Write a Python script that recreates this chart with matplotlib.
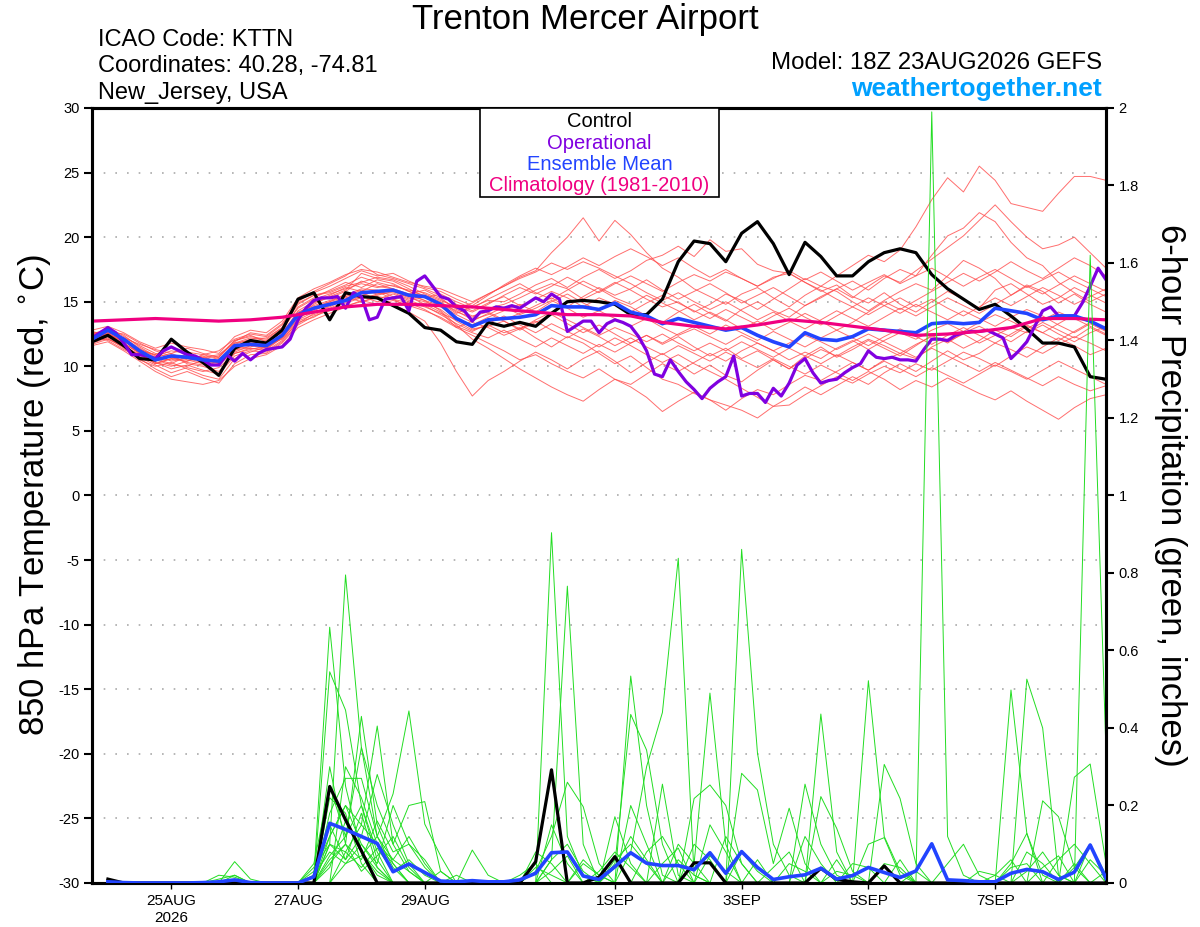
import numpy as np
import matplotlib
matplotlib.use("Agg")
import matplotlib.pyplot as plt
from matplotlib.patches import Rectangle

plt.rcParams["font.family"] = ["Liberation Sans", "DejaVu Sans"]
plt.rcParams["axes.unicode_minus"] = False

# ---------------------------------------------------------------------------
# 数据（小时，从 18Z 23AUG2026 起算）
# ---------------------------------------------------------------------------
hours = np.arange(0, 385, 6)        # 温度 65 点
hours_op = np.arange(0, 385, 3)     # 业务模式 3 小时
hours_pcp = np.arange(6, 385, 6)    # 6 小时降水 64 点
hours_clim = np.arange(0, 385, 12)  # 气候值

tick_hours = [30, 78, 126, 198, 246, 294, 342]
tick_labels = ["25AUG\n2026", "27AUG", "29AUG", "1SEP", "3SEP", "5SEP", "7SEP"]

# 850 hPa 温度
t_control = [11.9, 12.4, 11.6, 10.6, 10.5, 12.1, 11.1, 10.3, 9.3, 11.4, 12.0, 11.8, 12.8,
             15.2, 15.7, 13.6, 15.7, 15.4, 15.3, 14.7, 14.1, 13.0, 12.8, 11.9, 11.7, 13.4,
             13.1, 13.4, 13.1, 14.1, 15.0, 15.1, 15.0, 14.8, 14.0, 14.0, 15.2, 18.1, 19.7,
             19.5, 18.1, 20.3, 21.2, 19.5, 17.1, 19.6, 18.5, 17.0, 17.0, 18.1, 18.8, 19.1,
             18.8, 17.1, 16.0, 15.2, 14.4, 14.8, 13.9, 12.9, 11.8, 11.8, 11.5, 9.2, 9.0]
t_mean = [12.1, 12.8, 12.1, 11.2, 10.5, 10.8, 10.7, 10.5, 10.4, 11.6, 11.7, 11.6, 12.4,
          14.0, 14.5, 14.8, 15.1, 15.7, 15.8, 15.9, 15.5, 15.4, 14.8, 13.7, 13.1, 13.6,
          13.7, 13.8, 14.0, 14.7, 14.6, 14.6, 14.4, 14.9, 14.2, 13.9, 13.3, 13.7, 13.4,
          13.1, 12.8, 13.0, 12.4, 11.9, 11.5, 12.6, 12.1, 12.0, 12.3, 12.9, 12.8, 12.7,
          12.6, 13.3, 13.4, 13.3, 13.4, 14.5, 14.3, 14.1, 13.6, 13.9, 13.9, 13.5, 12.9]
t_oper = [12.2, 12.6, 13.0, 12.6, 11.8, 10.9, 10.9, 10.8, 10.6, 11.2, 11.5, 11.2, 10.9,
          10.8, 10.5, 10.1, 10.1, 10.9, 10.4, 11.0, 10.5, 11.0, 11.3, 11.4, 11.5, 12.1,
          13.6, 14.5, 15.1, 15.3, 15.3, 15.4, 14.5, 15.7, 15.4, 13.6, 13.8, 15.2, 15.3,
          15.4, 14.3, 16.6, 17.0, 16.2, 15.4,
          15.2, 14.6, 14.3, 13.5, 14.2, 14.3, 14.6, 14.5, 14.7, 14.5, 14.9, 15.3, 15.0,
          15.6, 15.2, 12.7, 13.1, 13.5, 13.5, 12.6, 13.3, 13.6, 13.4, 13.1, 12.3, 11.2,
          9.4, 9.2, 10.5, 9.6, 8.8, 8.2, 7.5, 8.3, 8.8, 9.2, 10.8, 7.7, 7.9, 7.9, 7.2,
          8.3, 7.7, 8.7,
          10.1, 10.6, 9.5, 8.7, 8.9, 9.0, 9.5, 9.9, 10.2, 11.2, 10.7, 10.6, 10.7, 10.5,
          10.5, 10.4, 11.3, 12.1, 12.1, 12.0, 12.4, 12.6, 12.7, 12.7, 12.8, 12.5, 12.2,
          10.6, 11.2, 11.9, 13.1, 14.3, 14.6, 13.9, 13.9, 13.9, 14.9, 16.2, 17.6, 16.7]
t_clim = [13.5, 13.6, 13.7, 13.6, 13.5, 13.6, 13.8, 14.2, 14.6, 14.8, 14.8, 14.7, 14.6,
          14.4, 14.2, 14.0, 14.0, 13.9, 13.4, 13.1, 12.9, 13.2, 13.6, 13.4, 13.1, 12.8,
          12.4, 12.5, 12.7, 13.0, 13.7, 13.7, 13.6]

# 集合成员温度
t_m01 = [12.3, 12.6, 11.8, 11.0, 10.2, 10.6, 10.9, 10.7, 10.9, 11.8, 12.2, 12.0, 12.9,
         14.5, 15.2, 15.6, 16.0, 16.4, 16.1, 16.3, 15.8, 15.5, 15.0, 14.2, 13.8, 14.5,
         14.8, 15.3, 15.9, 16.4, 16.0, 15.2, 15.8, 16.5, 15.9, 15.2, 14.6, 15.0, 14.2,
         14.8, 15.6, 15.1, 14.4, 15.2, 16.0, 16.8, 16.2, 17.0, 17.8, 18.6, 18.1, 19.0,
         20.8, 22.9, 24.6, 23.5, 25.5, 24.4, 22.6, 22.3, 22.0, 23.4, 24.7, 24.7, 24.4]
t_m02 = [12.0, 12.9, 12.4, 11.5, 10.8, 11.2, 11.0, 10.6, 10.8, 12.0, 12.3, 12.1, 13.0,
         14.8, 15.5, 15.8, 16.3, 16.9, 16.5, 16.2, 15.9, 15.7, 15.2, 14.5, 14.9, 15.6,
         16.2, 16.9, 17.4, 18.8, 20.0, 21.5, 19.7, 21.3, 20.2, 18.8, 17.6, 16.9, 16.0,
         15.4, 14.8, 15.6, 16.1, 15.3, 14.6, 15.5, 16.2, 15.8, 15.0, 14.3, 15.1, 15.8,
         16.4, 15.9, 17.0, 18.2, 17.6, 16.8, 15.5, 16.3, 15.8, 14.9, 15.6, 14.8, 14.2]
t_m03 = [12.4, 12.7, 11.9, 11.3, 10.9, 10.4, 10.6, 10.8, 10.2, 11.4, 11.5, 11.9, 12.6,
         13.9, 14.8, 15.4, 15.9, 17.2, 16.8, 16.6, 16.0, 15.4, 14.9, 14.1, 14.6, 15.1,
         15.0, 15.6, 16.3, 16.8, 16.1, 16.9, 17.5, 16.8, 17.4, 18.2, 18.6, 19.3, 18.5,
         19.8, 18.9, 19.1, 17.9, 17.4, 17.2, 16.5, 15.8, 16.3, 15.4, 14.9, 15.7, 14.8,
         14.2, 15.0, 15.8, 15.2, 14.5, 15.9, 16.4, 15.6, 14.8, 15.3, 16.1, 15.5, 14.9]
t_m04 = [11.8, 12.2, 11.4, 10.6, 9.8, 9.2, 9.6, 9.1, 8.7, 10.2, 10.9, 11.0, 11.8,
         13.2, 13.9, 14.3, 14.7, 15.0, 15.3, 14.8, 14.2, 13.5, 11.8, 9.6, 7.7, 8.9,
         9.6, 10.4, 11.1, 10.5, 9.8, 10.6, 11.2, 10.4, 9.5, 10.3, 11.0, 10.2, 9.4,
         10.1, 9.3, 8.8, 9.7, 10.5, 9.8, 10.8, 11.5, 10.7, 11.3, 12.0, 11.4, 10.8,
         11.6, 12.4, 11.8, 12.6, 13.1, 12.5, 11.9, 12.7, 13.4, 12.8, 12.2, 13.0, 12.4]
t_m05 = [12.1, 12.5, 12.0, 11.0, 10.4, 10.9, 10.2, 10.0, 9.6, 11.0, 11.4, 11.3, 12.2,
         13.6, 14.2, 14.6, 15.2, 15.5, 15.8, 15.2, 14.6, 14.9, 14.4, 13.5, 12.8, 13.2,
         12.6, 13.0, 12.2, 11.5, 12.3, 11.8, 11.0, 10.2, 10.8, 9.9, 9.0, 8.6, 7.9,
         7.4, 7.0, 6.6, 6.0, 6.9, 7.6, 8.4, 7.8, 8.5, 9.2, 8.6, 9.5, 10.2,
         9.6, 10.4, 11.2, 10.5, 11.0, 11.8, 11.3, 10.7, 11.5, 12.2, 11.6, 10.9, 11.4]
t_m06 = [12.6, 12.3, 11.6, 10.5, 10.0, 10.3, 9.8, 9.3, 9.0, 10.6, 11.1, 11.5, 12.4,
         14.0, 14.6, 15.0, 15.6, 15.2, 15.6, 15.9, 15.4, 14.8, 14.2, 13.0, 12.4, 11.8,
         11.2, 10.5, 10.9, 10.2, 9.6, 9.1, 9.8, 9.0, 8.4, 7.6, 6.5, 7.3, 8.0,
         7.4, 6.6, 7.5, 8.2, 7.8, 8.6, 9.3, 8.9, 9.6, 10.3, 9.7, 10.5, 11.0,
         10.6, 11.5, 12.1, 11.4, 12.0, 12.8, 12.3, 13.1, 12.6, 13.3, 14.0, 13.4, 12.8]
t_m07 = [11.9, 12.4, 12.2, 11.4, 10.7, 11.0, 10.5, 10.2, 10.5, 11.6, 11.8, 11.4, 12.3,
         14.2, 14.7, 15.1, 15.5, 16.0, 15.9, 15.4, 15.0, 14.6, 14.1, 13.6, 13.2, 13.8,
         14.3, 14.8, 14.2, 15.0, 15.6, 14.9, 14.3, 15.1, 14.6, 13.9, 13.4, 14.2, 14.8,
         14.1, 13.5, 14.4, 15.0, 14.3, 13.8, 14.7, 15.4, 16.0, 15.3, 16.2, 17.0, 16.5,
         17.4, 18.3, 19.2, 20.1, 21.3, 22.5, 21.2, 20.0, 19.1, 19.4, 20.0, 18.8, 17.6]
t_m08 = [12.2, 12.1, 11.5, 10.8, 10.6, 10.2, 10.8, 10.4, 10.1, 11.2, 11.9, 11.7, 12.5,
         14.3, 15.0, 15.3, 15.8, 16.6, 16.2, 16.0, 15.6, 15.9, 15.3, 14.4, 13.9, 14.2,
         13.6, 14.1, 14.7, 15.3, 14.6, 15.4, 16.1, 15.5, 16.0, 16.7, 15.9, 15.2, 15.8,
         16.4, 15.7, 14.9, 15.5, 16.1, 15.4, 14.7, 15.3, 16.0, 16.6, 15.9, 16.8, 17.5,
         17.0, 18.6, 20.1, 20.7, 21.9, 21.2, 19.6, 18.4, 17.8, 16.5, 15.7, 15.0, 15.6]
t_m09 = [12.0, 12.6, 11.7, 11.1, 10.3, 10.0, 10.4, 10.9, 10.6, 11.3, 11.4, 11.2, 12.0,
         13.5, 14.0, 14.4, 14.9, 15.3, 15.5, 15.8, 15.3, 15.0, 14.6, 13.8, 12.9, 13.1,
         13.5, 12.8, 13.4, 14.0, 13.3, 12.6, 13.2, 12.5, 11.8, 12.4, 11.7, 12.3, 11.5,
         10.8, 11.4, 10.6, 11.2, 10.5, 9.8, 10.6, 11.3, 10.8, 11.5, 12.1, 11.6, 11.0,
         11.7, 12.3, 11.9, 12.5, 11.8, 12.4, 13.0, 12.6, 13.2, 12.5, 11.9, 12.6, 13.1]
t_m10 = [12.5, 12.9, 12.3, 11.6, 11.0, 10.7, 10.3, 10.1, 10.4, 11.8, 12.0, 11.8, 12.7,
         14.1, 14.9, 15.5, 16.1, 15.8, 16.4, 16.0, 15.5, 15.1, 14.7, 14.0, 13.4, 13.0,
         12.4, 12.9, 13.5, 12.8, 12.2, 12.9, 12.3, 11.6, 12.2, 11.5, 10.9, 11.6, 11.0,
         10.4, 11.1, 10.5, 9.9, 10.6, 10.0, 9.4, 10.1, 9.5, 8.9, 9.6, 9.0, 8.2,
         8.9, 8.4, 9.1, 8.5, 7.9, 7.4, 8.1, 7.3, 6.6, 5.9, 6.8, 7.5, 7.8]
t_m11 = [12.7, 12.4, 12.0, 11.2, 10.9, 11.5, 11.1, 10.9, 11.2, 12.1, 12.5, 12.3, 13.2,
         15.0, 15.8, 16.4, 17.0, 17.9, 17.1, 16.8, 16.4, 16.0, 15.5, 14.8, 14.3, 14.9,
         15.4, 14.7, 15.2, 15.8, 15.3, 14.6, 15.3, 14.8, 14.2, 14.9, 15.5, 14.9, 14.3,
         13.7, 14.4, 13.8, 13.2, 13.9, 14.5, 13.8, 13.2, 13.9, 14.6, 14.0, 14.7, 15.3,
         14.6, 15.2, 14.5, 13.9, 14.6, 15.3, 14.7, 15.4, 16.1, 15.5, 14.8, 15.4, 16.0]
t_m12 = [12.3, 12.0, 11.3, 10.7, 10.1, 9.5, 9.9, 9.6, 9.9, 11.0, 11.3, 11.6, 12.1,
         13.4, 13.8, 14.5, 15.0, 15.4, 15.0, 15.3, 15.6, 15.1, 14.3, 13.2, 12.1, 11.4,
         10.6, 9.8, 9.1, 8.4, 7.8, 7.3, 8.2, 9.0, 8.6, 9.4, 10.2, 9.6, 10.3,
         11.0, 10.4, 11.2, 11.8, 11.2, 10.5, 11.1, 10.6, 11.4, 12.0, 11.3, 12.0, 12.6,
         12.1, 12.8, 13.3, 12.7, 13.4, 14.0, 13.5, 12.9, 13.6, 14.2, 13.7, 13.1, 12.5]
t_m13 = [12.1, 12.7, 12.5, 11.8, 11.2, 10.8, 10.6, 10.3, 10.7, 12.0, 12.4, 11.9, 12.8,
         14.6, 15.3, 15.9, 16.5, 16.1, 16.7, 16.4, 15.8, 15.3, 15.6, 15.0, 14.5, 15.2,
         15.8, 16.4, 15.7, 15.2, 15.9, 16.6, 16.0, 15.3, 14.8, 15.5, 14.9, 14.3, 13.6,
         14.2, 13.6, 12.9, 13.5, 12.8, 13.4, 14.1, 13.5, 12.8, 13.4, 14.2, 15.0, 14.4,
         15.1, 15.8, 16.5, 17.2, 16.6, 17.3, 18.1, 17.4, 16.8, 17.6, 18.4, 17.8, 17.0]
t_m14 = [11.7, 12.1, 11.6, 10.9, 10.5, 10.1, 10.0, 10.5, 10.2, 11.5, 11.8, 11.5, 12.3,
         13.8, 14.3, 14.9, 15.3, 15.7, 15.2, 15.6, 15.1, 14.7, 14.0, 13.3, 12.7, 13.3,
         13.9, 13.2, 12.6, 13.3, 12.7, 12.1, 11.5, 12.2, 11.6, 10.9, 10.3, 10.9, 10.2,
         9.6, 9.0, 8.3, 7.6, 6.9, 7.0, 7.8, 8.5, 9.2, 8.7, 9.4, 10.0, 9.5,
         10.2, 9.7, 10.4, 11.1, 10.6, 10.0, 10.8, 11.5, 11.0, 11.7, 12.3, 11.8, 11.2]
t_m15 = [12.4, 12.8, 12.1, 11.3, 10.6, 10.5, 10.8, 10.5, 10.3, 11.7, 12.1, 12.2, 13.0,
         14.9, 15.5, 15.7, 16.2, 16.5, 16.9, 16.7, 16.2, 15.6, 15.1, 14.6, 14.2, 14.8,
         15.5, 16.1, 15.6, 16.2, 16.9, 16.3, 15.7, 16.4, 17.0, 16.4, 15.8, 16.5, 17.1,
         16.6, 17.3, 16.8, 16.2, 16.9, 17.2, 16.5, 15.9, 15.2, 14.6, 15.3, 14.7, 14.1,
         14.8, 14.2, 13.6, 14.3, 13.7, 13.1, 13.8, 14.4, 13.9, 13.2, 12.6, 13.3, 12.7]
t_m16 = [11.9, 12.3, 11.8, 11.0, 10.3, 9.8, 10.1, 9.7, 9.4, 10.8, 11.2, 11.1, 11.9,
         13.3, 14.1, 14.7, 15.4, 15.0, 15.4, 15.2, 14.9, 14.4, 13.7, 13.0, 13.5, 14.1,
         13.5, 12.9, 13.6, 14.2, 13.6, 13.0, 12.4, 13.0, 12.5, 11.9, 12.5, 11.8, 11.2,
         11.8, 11.2, 11.9, 11.3, 10.7, 11.4, 10.8, 10.2, 10.9, 10.3, 9.7, 10.4, 9.8,
         9.2, 9.9, 9.3, 8.7, 9.4, 10.1, 9.6, 9.0, 9.7, 10.4, 9.8, 9.2, 8.6]
t_m17 = [12.6, 12.6, 12.2, 11.7, 11.3, 11.0, 11.4, 11.0, 10.7, 11.9, 12.6, 12.4, 13.3,
         15.1, 15.7, 16.2, 16.8, 17.4, 17.0, 17.2, 16.6, 16.1, 15.8, 15.2, 14.7, 15.5,
         16.3, 17.0, 17.6, 17.1, 17.7, 18.4, 17.8, 18.5, 19.1, 18.5, 17.8, 18.4, 17.6,
         16.9, 17.5, 16.8, 16.2, 16.8, 17.4, 16.7, 17.3, 16.6, 15.9, 16.5, 17.1, 16.4,
         17.0, 17.6, 16.9, 16.2, 16.9, 17.5, 16.8, 16.1, 16.7, 17.3, 16.6, 16.0, 15.4]
t_m18 = [12.2, 12.5, 11.5, 10.9, 10.2, 10.6, 10.4, 10.7, 10.3, 11.1, 11.6, 11.4, 12.2,
         13.7, 14.4, 15.0, 15.4, 15.9, 15.6, 15.7, 15.2, 15.4, 14.9, 14.3, 13.6, 14.0,
         14.6, 14.0, 14.5, 15.1, 14.5, 13.8, 14.3, 13.7, 13.1, 13.7, 13.0, 12.4, 12.9,
         12.3, 11.7, 12.4, 11.8, 11.2, 11.8, 12.4, 11.9, 11.3, 11.9, 12.5, 11.9, 11.3,
         10.7, 11.4, 10.8, 10.2, 9.6, 10.3, 9.7, 9.1, 8.5, 9.2, 8.6, 8.1, 8.5]
t_m19 = [11.6, 11.9, 11.2, 10.4, 9.6, 9.0, 8.8, 8.6, 8.9, 10.0, 10.6, 10.9, 11.6,
         13.0, 13.6, 14.1, 14.6, 15.1, 14.8, 15.1, 14.7, 14.3, 13.8, 13.1, 12.6, 12.2,
         12.8, 12.1, 11.5, 12.2, 11.6, 11.0, 11.7, 11.1, 11.8, 12.4, 11.8, 12.5, 13.1,
         12.5, 13.2, 12.6, 12.0, 12.7, 12.1, 11.5, 12.2, 12.8, 12.2, 11.6, 12.3, 12.9,
         12.3, 11.7, 12.4, 13.0, 12.4, 11.8, 12.5, 13.2, 12.6, 12.0, 12.7, 13.4, 12.8]
t_m20 = [12.8, 13.1, 12.6, 11.9, 11.4, 11.8, 11.5, 11.3, 11.0, 12.3, 12.8, 12.6, 13.5,
         15.3, 16.0, 16.5, 17.1, 17.5, 17.3, 16.9, 16.5, 16.2, 16.0, 15.5, 15.0, 15.6,
         16.2, 16.8, 17.3, 18.0, 17.5, 18.1, 17.6, 17.0, 16.4, 15.7, 15.1, 15.7, 15.0,
         14.4, 15.0, 14.3, 13.6, 14.2, 13.5, 12.9, 13.6, 14.3, 13.7, 13.1, 13.8, 14.5,
         13.9, 14.6, 15.3, 14.7, 14.1, 14.8, 15.5, 16.2, 15.6, 16.3, 17.0, 16.4, 15.8]

# 6 小时降水（英寸）
p_control = [0.01, 0, 0, 0, 0, 0, 0, 0, 0, 0, 0, 0, 0, 0, 0.249, 0.163,
             0.083, 0, 0, 0, 0, 0, 0, 0, 0, 0, 0, 0.055, 0.292, 0, 0, 0.015,
             0.068, 0, 0, 0, 0, 0.052, 0.052, 0, 0, 0, 0, 0, 0, 0.038, 0.009, 0.003,
             0, 0.044, 0, 0, 0, 0, 0, 0, 0, 0, 0, 0, 0, 0, 0, 0]
p_mean = [0.003, 0.001, 0, 0, 0, 0, 0.001, 0.003, 0.008, 0.001, 0, 0, 0, 0.016, 0.154, 0.138,
          0.12, 0.102, 0.029, 0.049, 0.027, 0.005, 0.003, 0.006, 0.003, 0.003, 0.008, 0.025, 0.078, 0.08, 0.018, 0.009,
          0.042, 0.078, 0.051, 0.045, 0.045, 0.034, 0.078, 0.025, 0.081, 0.04, 0.009, 0.016, 0.021, 0.038, 0.01, 0.019,
          0.04, 0.027, 0.014, 0.031, 0.101, 0.008, 0.006, 0.003, 0.003, 0.025, 0.035, 0.029, 0.009, 0.028, 0.098, 0.012]

p_m01 = [0, 0, 0, 0, 0, 0, 0, 0, 0, 0, 0, 0, 0, .02, .66, .25,
         .08, .03, 0, 0, 0, 0, 0, 0, 0, 0, 0, 0, .904, .12, .02, 0,
         0, 0, 0, 0, 0, 0, 0, 0, 0, 0, 0, 0, 0, .436, .08, 0,
         0, 0, 0, 0, 1.99, .12, .02, 0, 0, 0, 0, 0, 0, 0, 0, 0]
p_m02 = [0, 0, 0, 0, 0, 0, 0, 0, 0, 0, 0, 0, 0, 0, .10, .795,
         .35, .12, .04, 0, 0, 0, 0, 0, 0, 0, 0, 0, .06, .766, .1, 0,
         0, 0, 0, 0, 0, 0, 0, 0, .861, .335, .1, .02, 0, 0, 0, 0,
         0, 0, 0, 0, 0, 0, 0, 0, 0, 0, 0, 0, 0, 0, 1.62, .335]
p_m03 = [0, 0, 0, 0, 0, 0, 0, 0, .055, .01, 0, 0, 0, 0, .545, .446,
         .2, .06, 0, 0, 0, 0, 0, 0, 0, 0, 0, 0, 0, 0, 0, 0,
         0, .534, .2, .02, 0, 0, 0, 0, 0, 0, 0, 0, 0, 0, 0, 0,
         0, 0, 0, 0, 0, 0, 0, 0, 0, .498, .128, 0, 0, 0, 0, 0]
p_m04 = [0, 0, 0, 0, 0, 0, 0, 0, 0, 0, 0, 0, 0, 0, .3, .1,
         .43, .15, .05, 0, 0, 0, 0, 0, 0, 0, 0, .03, .12, .26, .197, .05,
         0, 0, 0, 0, 0, 0, 0, 0, 0, 0, 0, 0, 0, 0, 0, 0,
         .522, .12, .03, 0, 0, 0, 0, 0, 0, 0, .526, .40, .02, 0, 0, 0]
p_m05 = [0, 0, 0, 0, 0, 0, 0, .02, .015, 0, 0, 0, 0, .03, .12, .2,
         .15, .405, .1, .03, 0, 0, 0, 0, 0, 0, 0, 0, 0, 0, 0, 0,
         0, .08, .3, .44, .838, .02, 0, 0, 0, 0, 0, 0, 0, 0, 0, 0,
         0, .306, .218, .05, 0, 0, 0, 0, 0, 0, 0, 0, 0, 0, 0, 0]
p_m06 = [0, 0, 0, 0, 0, 0, 0, 0, 0, 0, 0, 0, 0, 0, .18, .27,
         .27, .12, .23, .444, .152, .07, 0, 0, 0, 0, 0, 0, 0, 0, 0, 0,
         0, 0, 0, 0, 0, .05, .49, .1, 0, 0, 0, 0, 0, 0, 0, 0,
         0, 0, 0, 0, 0, 0, 0, 0, 0, 0, 0, 0, 0, .273, .307, .05]
p_m07 = [0, 0, 0, 0, 0, 0, 0, 0, 0, 0, 0, 0, 0, .05, .25, .12,
         .35, .2, .1, .2, .21, .03, 0, 0, 0, 0, 0, 0, 0, 0, 0, 0,
         .05, .435, .343, .1, 0, 0, 0, 0, 0, 0, 0, 0, .255, .1, .02, 0,
         0, 0, 0, 0, 0, 0, 0, 0, 0, 0, 0, 0, 0, 0, 0, 0]
p_m08 = [0, 0, 0, 0, 0, 0, 0, 0, 0, 0, 0, 0, 0, 0, .15, .06,
         .12, .28, .15, .05, 0, 0, 0, .085, .02, 0, 0, 0, 0, 0, 0, 0,
         0, 0, 0, 0, 0, .218, .253, .2, .05, 0, 0, 0, 0, 0, 0, 0,
         0, 0, 0, 0, 0, 0, 0, 0, 0, 0, 0, .212, .171, .04, 0, 0]
p_m09 = [0, 0, 0, 0, 0, 0, 0, 0, 0, 0, 0, 0, 0, 0, .22, .18,
         .05, 0, 0, 0, 0, 0, 0, 0, 0, 0, 0, 0, 0, 0, 0, 0,
         .171, .05, 0, .255, .02, 0, 0, 0, .283, .24, .05, .193, .05, 0, 0, 0,
         0, 0, 0, 0, 0, 0, 0, 0, 0, .05, .128, .02, 0, 0, 0, 0]
p_m10 = [0, 0, 0, 0, 0, 0, 0, 0, 0, 0, 0, 0, 0, 0, 0, .3,
         .22, .1, .05, 0, 0, 0, 0, 0, 0, 0, 0, 0, .15, .05, 0, 0,
         0, 0, 0, 0, 0, 0, 0, 0, 0, 0, 0, 0, 0, .223, .141, .03,
         0, 0, 0, 0, 0, .05, .1, .02, 0, 0, 0, 0, 0, 0, .1, 0]
p_m11 = [0, 0, 0, 0, 0, 0, 0, 0, 0, 0, 0, 0, 0, .04, .1, .08,
         .15, .1, .06, .12, .05, 0, 0, 0, 0, 0, 0, .08, .05, 0, 0, 0,
         .06, .1, .05, 0, 0, 0, 0, 0, 0, 0, 0, 0, 0, 0, 0, 0,
         .1, .117, .02, 0, 0, 0, 0, 0, 0, 0, .08, .05, 0, 0, 0, 0]
p_m12 = [0, 0, 0, 0, 0, 0, 0, 0, 0, 0, 0, 0, 0, 0, .07, .12,
         .2, .08, 0, 0, 0, 0, 0, 0, 0, 0, 0, 0, .06, .1, .03, 0,
         0, 0, 0, 0, .1, .05, 0, 0, 0, 0, 0, 0, 0, 0, .06, 0,
         0, 0, 0, 0, 0, 0, 0, 0, 0, 0, 0, 0, .06, .1, .05, 0]
p_m13 = [0, 0, 0, 0, 0, 0, 0, 0, .02, 0, 0, 0, 0, 0, .05, .1,
         .06, .16, .08, .1, .04, 0, .02, 0, 0, 0, 0, 0, 0, 0, 0, 0,
         0, 0, 0, 0, 0, 0, .15, .08, 0, .06, 0, 0, 0, 0, 0, 0,
         0, 0, 0, .03, 0, 0, 0, 0, .02, .06, 0, 0, 0, 0, 0, 0]
p_m14 = [0, 0, 0, 0, 0, 0, 0, 0, 0, 0, 0, 0, 0, 0, 0, .05,
         .1, .05, .2, .1, .06, 0, 0, 0, 0, 0, 0, 0, 0, 0, .06, .02,
         0, 0, .08, .12, .05, 0, 0, 0, 0, 0, .04, .08, 0, 0, 0, 0,
         0, 0, 0, 0, 0, 0, 0, 0, 0, 0, 0, 0, 0, .04, .1, .02]
p_m15 = [0, 0, 0, 0, 0, 0, 0, 0, 0, 0, 0, 0, 0, 0, .12, .2,
         .1, .04, 0, 0, 0, 0, 0, 0, 0, 0, 0, .04, .02, 0, 0, 0,
         0, .2, .1, 0, 0, 0, 0, .12, .05, 0, 0, 0, 0, 0, 0, .05,
         .04, 0, 0, 0, 0, 0, 0, 0, 0, 0, .03, .08, .02, 0, 0, 0]
p_m16 = [0, 0, 0, 0, 0, 0, 0, 0, 0, 0, 0, 0, 0, .02, .08, .05,
         .07, .12, .06, .03, 0, 0, 0, 0, 0, 0, 0, 0, 0, 0, 0, .03,
         .08, .04, 0, 0, 0, .1, .06, 0, 0, 0, 0, 0, .12, .05, 0, 0,
         0, 0, 0, 0, 0, 0, 0, 0, 0, 0, 0, 0, 0, 0, 0, .03]
p_m17 = [0, 0, 0, 0, 0, 0, 0, 0, 0, 0, 0, 0, 0, 0, .04, .16,
         .08, .02, 0, 0, 0, .03, 0, 0, 0, 0, 0, 0, .03, .07, 0, 0,
         0, 0, 0, 0, .06, .02, 0, 0, 0, 0, 0, .05, .03, 0, 0, 0,
         0, 0, .06, 0, 0, 0, 0, 0, 0, .04, .05, 0, 0, 0, 0, 0]
p_m18 = [0, 0, 0, 0, 0, 0, 0, 0, 0, 0, 0, 0, 0, 0, 0, .08,
         .04, .09, .03, .06, .02, 0, 0, 0, 0, 0, 0, 0, 0, 0, 0, 0,
         .04, .12, .06, 0, 0, 0, 0, 0, .08, .03, 0, 0, 0, 0, 0, 0,
         0, 0, 0, 0, 0, 0, 0, .03, .02, 0, 0, 0, 0, .05, 0, 0]
p_m19 = [0, 0, 0, 0, 0, 0, 0, .01, .02, 0, 0, 0, 0, 0, .1, .06,
         .18, .04, 0, 0, 0, 0, 0, 0, 0, 0, .02, .05, 0, 0, 0, 0,
         0, 0, 0, .05, .09, 0, 0, 0, 0, 0, 0, 0, 0, 0, .03, .02,
         0, 0, 0, 0, 0, 0, 0, 0, 0, 0, 0, .04, .07, 0, 0, 0]
p_m20 = [0, 0, 0, 0, 0, 0, 0, 0, 0, 0, 0, 0, 0, 0, .06, .1,
         .03, .07, .12, .04, 0, 0, 0, 0, 0, 0, 0, 0, 0, 0, .05, .02,
         0, 0, 0, 0, 0, 0, .07, .03, 0, 0, 0, 0, 0, 0, 0, 0,
         0, .05, .04, 0, 0, 0, 0, 0, 0, 0, 0, 0, 0, 0, .06, .02]

t_members = [t_m01, t_m02, t_m03, t_m04, t_m05, t_m06, t_m07, t_m08, t_m09, t_m10,
             t_m11, t_m12, t_m13, t_m14, t_m15, t_m16, t_m17, t_m18, t_m19, t_m20]
p_members = [p_m01, p_m02, p_m03, p_m04, p_m05, p_m06, p_m07, p_m08, p_m09, p_m10,
             p_m11, p_m12, p_m13, p_m14, p_m15, p_m16, p_m17, p_m18, p_m19, p_m20]

legend_entries = [("Control", "black"),
                  ("Operational", "#8000e0"),
                  ("Ensemble Mean", "#2244ff"),
                  ("Climatology (1981-2010)", "#f00080")]

# ---------------------------------------------------------------------------
# 绘图
# ---------------------------------------------------------------------------
fig = plt.figure(figsize=(12, 9.27), dpi=100)
ax = fig.add_axes([0.0767, 0.0475, 0.845, 0.836])
ax2 = ax.twinx()

for y in range(-25, 30, 5):
    ax.axhline(y, color="#aaaaaa", lw=1.2, ls=(0, (1, 6)), zorder=1)

for m in t_members:
    ax.plot(hours, m, color="#ff4a4a", lw=0.7, alpha=0.8, zorder=2)

ax.plot(hours, t_control, color="black", lw=2.3, zorder=4)
ax.plot(hours_op, t_oper, color="#8000e0", lw=2.3, zorder=5)
ax.plot(hours, t_mean, color="#2244ff", lw=2.6, zorder=6)
ax.plot(hours_clim, t_clim, color="#f00080", lw=2.3, zorder=7)

for m in p_members:
    ax2.plot(hours_pcp, m, color="#22dd22", lw=0.7, zorder=2)
ax2.plot(hours_pcp, p_control, color="black", lw=2.3, zorder=4)
ax2.plot(hours_pcp, p_mean, color="#2244ff", lw=2.6, zorder=5)

ax.set_xlim(0, 384)
ax.set_ylim(-30, 30)
ax2.set_ylim(0, 2)

ax.set_yticks(range(-30, 31, 5))
ax.set_yticklabels([str(v) for v in range(-30, 31, 5)])
pt = np.round(np.arange(0, 2.01, 0.2), 1)
ax2.set_yticks(pt)
ax2.set_yticklabels([f"{v:g}" for v in pt])
ax.set_xticks(tick_hours)
ax.set_xticklabels(tick_labels, linespacing=1.25)

ax.tick_params(axis="y", direction="out", length=6, width=1.5, labelsize=10.5, pad=3)
ax2.tick_params(axis="y", direction="out", length=6, width=1.5, labelsize=10.5, pad=3)
ax.tick_params(axis="x", direction="out", length=4, width=1, labelsize=11, pad=4)

for a in (ax, ax2):
    for s in a.spines.values():
        s.set_linewidth(2.2)

# 图例框
x0, x1, y0 = 0.3826, 0.6183, 0.885
ax2.add_patch(Rectangle((x0, y0), x1 - x0, 1 - y0, transform=ax2.transAxes,
                        facecolor="white", edgecolor="black", lw=1.2, zorder=10))
for k, (lab, col) in enumerate(legend_entries):
    ax2.text(0.5005, 0.982 - 0.0273 * k, lab, color=col, fontsize=14.5,
             ha="center", va="center", transform=ax2.transAxes, zorder=11)

# 标题与信息
fig.text(0.4875, 0.979, "Trenton Mercer Airport", fontsize=25, ha="center", va="center")
fig.text(0.0817, 0.9569, "ICAO Code: KTTN", fontsize=17, ha="left", va="center")
fig.text(0.0817, 0.9288, "Coordinates: 40.28, -74.81", fontsize=17, ha="left", va="center")
fig.text(0.0817, 0.8997, "New_Jersey, USA", fontsize=17, ha="left", va="center")
fig.text(0.9183, 0.932, "Model: 18Z 23AUG2026 GEFS", fontsize=17.3, ha="right", va="center")
fig.text(0.9183, 0.904, "weathertogether.net", fontsize=19, fontweight="bold",
         color="#00a0ff", ha="right", va="center")

fig.text(0.029, 0.466, r"850 hPa Temperature (red, $^{\circ}$C)", fontsize=25,
         rotation=90, ha="center", va="center")
fig.text(0.975, 0.466, "6-hour Precipitation (green, inches)", fontsize=25,
         rotation=270, ha="center", va="center")

fig.savefig("out.png", dpi=100)
